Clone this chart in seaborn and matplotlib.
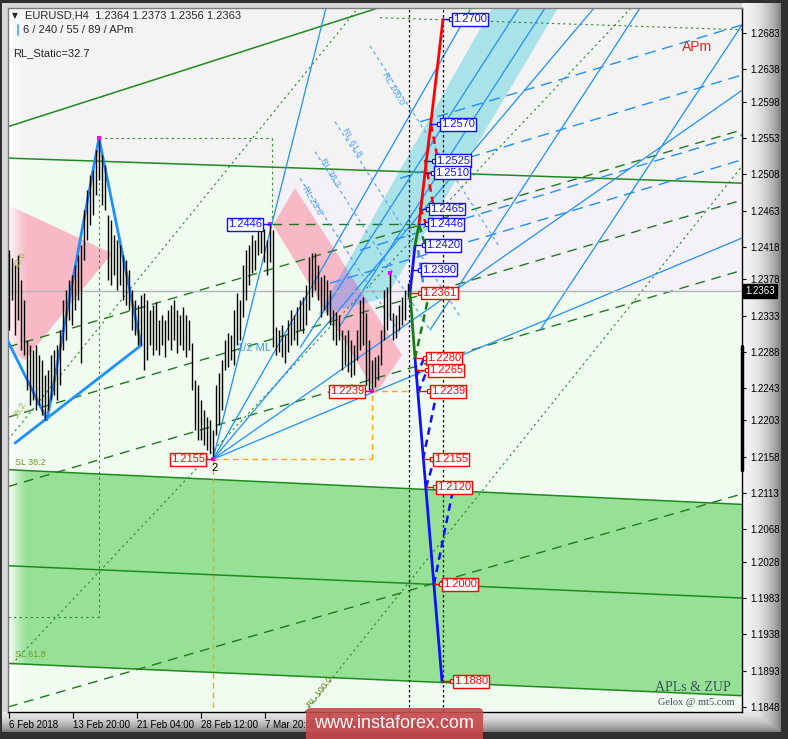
import numpy as np
import matplotlib
matplotlib.use("Agg")
import matplotlib.pyplot as plt
import seaborn as sns
from matplotlib.patches import Polygon, FancyBboxPatch

sns.set_style("white")
plt.rcParams['font.family'] = ['Liberation Sans', 'DejaVu Sans']

# ---------------- data ----------------
bar_high = [1.2414, 1.2404, 1.2396, 1.2408, 1.2377, 1.2352, 1.2303, 1.2296, 1.2290, 1.2296,
            1.2284, 1.2278, 1.2259, 1.2266, 1.2284, 1.2290, 1.2296, 1.2315, 1.2352, 1.2365,
            1.2377, 1.2383, 1.2396, 1.2408, 1.2420, 1.2464, 1.2489, 1.2507, 1.2513, 1.2538,
            1.2553, 1.2532, 1.2519, 1.2458, 1.2451, 1.2433, 1.2427, 1.2420, 1.2408, 1.2402,
            1.2389, 1.2365, 1.2352, 1.2346, 1.2358, 1.2361, 1.2352, 1.2340, 1.2346, 1.2350,
            1.2327, 1.2334, 1.2327, 1.2340, 1.2346, 1.2352, 1.2340, 1.2334, 1.2344, 1.2334,
            1.2327, 1.2299, 1.2253, 1.2247, 1.2228, 1.2216, 1.2207, 1.2204, 1.2191, 1.2247,
            1.2262, 1.2278, 1.2303, 1.2311, 1.2309, 1.2340, 1.2361, 1.2352, 1.2396, 1.2414,
            1.2420, 1.2433, 1.2427, 1.2438, 1.2444, 1.2440, 1.2427, 1.2446, 1.2439, 1.2319,
            1.2315, 1.2321, 1.2309, 1.2327, 1.2340, 1.2334, 1.2344, 1.2352, 1.2356, 1.2371,
            1.2406, 1.2410, 1.2410, 1.2396, 1.2381, 1.2383, 1.2377, 1.2365, 1.2340, 1.2337,
            1.2334, 1.2315, 1.2309, 1.2315, 1.2303, 1.2296, 1.2315, 1.2352, 1.2356, 1.2336,
            1.2303, 1.2278, 1.2282, 1.2284, 1.2315, 1.2365, 1.2368, 1.2386, 1.2336, 1.2334,
            1.2346, 1.2356, 1.2365, 1.2373]
bar_low = [1.2315, 1.2352, 1.2309, 1.2327, 1.2290, 1.2284, 1.2241, 1.2222, 1.2228, 1.2216,
           1.2222, 1.2210, 1.2204, 1.2216, 1.2228, 1.2235, 1.2228, 1.2247, 1.2290, 1.2303,
           1.2327, 1.2321, 1.2340, 1.2352, 1.2274, 1.2402, 1.2427, 1.2445, 1.2458, 1.2482,
           1.2501, 1.2470, 1.2464, 1.2377, 1.2371, 1.2383, 1.2365, 1.2371, 1.2352, 1.2346,
           1.2340, 1.2315, 1.2309, 1.2296, 1.2296, 1.2266, 1.2278, 1.2296, 1.2284, 1.2290,
           1.2284, 1.2296, 1.2282, 1.2303, 1.2290, 1.2303, 1.2287, 1.2296, 1.2290, 1.2282,
           1.2290, 1.2241, 1.2191, 1.2179, 1.2179, 1.2173, 1.2166, 1.2163, 1.2155, 1.2185,
           1.2197, 1.2216, 1.2266, 1.2269, 1.2278, 1.2272, 1.2296, 1.2303, 1.2331, 1.2352,
           1.2371, 1.2386, 1.2389, 1.2408, 1.2410, 1.2399, 1.2383, 1.2399, 1.2294, 1.2284,
           1.2288, 1.2282, 1.2274, 1.2288, 1.2296, 1.2303, 1.2296, 1.2315, 1.2311, 1.2321,
           1.2340, 1.2356, 1.2365, 1.2352, 1.2331, 1.2340, 1.2334, 1.2321, 1.2303, 1.2296,
           1.2303, 1.2266, 1.2272, 1.2263, 1.2257, 1.2259, 1.2278, 1.2290, 1.2296, 1.2247,
           1.2241, 1.2239, 1.2244, 1.2253, 1.2272, 1.2303, 1.2315, 1.2327, 1.2303, 1.2305,
           1.2315, 1.2321, 1.2327, 1.2356]
last_ohlc = [1.2364, 1.2373, 1.2356, 1.2363]

price_ticks = [1.2683, 1.2638, 1.2598, 1.2553, 1.2508, 1.2463, 1.2418, 1.2378, 1.2333, 1.2288,
               1.2243, 1.2203, 1.2158, 1.2113, 1.2068, 1.2028, 1.1983, 1.1938, 1.1893, 1.1848]
date_labels = ["6 Feb 2018", "13 Feb 20:00", "21 Feb 04:00", "28 Feb 12:00",
               "7 Mar 20:00", "15 Mar 04:00", "22 Mar 12:00"]

# swing points (bar index) marked on chart
swing_idx_high = [30, 87, 127]
swing_idx_low = [68, 121]

# forecast targets
up_targets = [1.2700, 1.2570, 1.2525, 1.2510, 1.2465, 1.2446, 1.2420, 1.2390]
down_targets = [1.2361, 1.2280, 1.2265, 1.2239, 1.2155, 1.2120, 1.2000, 1.1880]

# forecast zigzag paths (time position, price)
fc_up_blue = ([410, 415], [1.2361, 1.2420])
fc_up_green = ([415, 419], [1.2420, 1.2446])
fc_up_red = ([419, 443], [1.2446, 1.2700])
fc_dn_green = ([410, 415], [1.2361, 1.2280])
fc_dn_blue = ([415, 442], [1.2280, 1.1880])

# ZUP pattern
zup_x = [8, 47, 99, 141]
zup_p = [1.2301, 1.2204, 1.2553, 1.2296]

# ---------------- layout ----------------
W, H = 788, 739
L, R, T, B = 8, 742, 8, 712
ymin, ymax = 1.18418, 1.27140

fig = plt.figure(figsize=(W / 100, H / 100), dpi=100)
fig.patch.set_facecolor('#2e2e2e')

# beveled frame background
yy, xx = np.mgrid[0:H, 0:W]
val = np.full((H, W), 0.19)
inner = (xx >= 2) & (xx < 781) & (yy >= 3) & (yy < 732)
val[inner] = 0.84
t = np.clip((xx - R) / (781 - R), 0, 1)
s = np.clip((yy - B) / (732 - B), 0, 1)
vr = 0.95 - 0.45 * t ** 2.2
vb = 0.90 - 0.42 * s ** 1.6
rs = inner & (xx >= R)
bs = inner & (yy >= B)
val[rs] = vr[rs]
val[bs] = vb[bs]
both = rs & bs
val[both] = np.minimum(vr, vb)[both]
img = np.dstack([val, val, val])
bg = fig.add_axes([0, 0, 1, 1], zorder=0)
bg.imshow(img, extent=(0, W, H, 0), aspect='auto', interpolation='nearest')
bg.set_axis_off()

ax = fig.add_axes([L / W, (H - B) / H, (R - L) / W, (B - T) / H], zorder=1)
ax.set_facecolor('#effcef')

# ---------------- background fills ----------------
def poly(pts, fc, z=1, **kw):
    p = Polygon(pts, closed=True, fc=fc, ec='none', zorder=z, **kw)
    ax.add_patch(p)
    return p

poly([(8, 1.2528), (742, 1.2497), (742, ymax), (8, ymax)], '#f3f3f3')
poly([(273, 1.2517), (742, 1.2497), (742, 1.2363), (410, 1.2363), (410, 1.2278),
      (385, 1.2237), (273, 1.2445)], '#f5f1f9')
poly([(8, 1.2142), (742, 1.2099), (742, 1.1862), (8, 1.1902)], '#96e196')
poly([(8, 1.2470), (112, 1.2410), (25, 1.2278), (8, 1.2288)], '#f8b8c6')
pink_band = poly([(273, 1.2445), (295, 1.2491), (402, 1.2284), (376, 1.2237)], '#f8b8c6')
cyan_pts = [(318, 1.2334), (492, ymax), (558, ymax), (386, 1.2355)]
poly(cyan_pts, '#a9e2e8')
purple = poly(cyan_pts, '#b9a5dc', z=1.1)
purple.set_clip_path(pink_band)

# white fade on the left
grad = np.ones((2, 60, 4))
grad[..., 3] = np.linspace(1, 0, 60) ** 1.3
ax.imshow(grad, extent=(8, 28, ymin, ymax), aspect='auto', zorder=1.5, interpolation='bilinear')

# ---------------- trend lines ----------------
STY = {
    'g': dict(color='#1f8a1f', lw=1.1, ls='-'),
    'gd': dict(color='#1f7a1f', lw=1.0, ls=(0, (7, 5))),
    'gdot': dict(color='#2a8a2a', lw=0.8, ls=(0, (2, 3))),
    'b': dict(color='#1e90ff', lw=0.9, ls='-'),
    'bd': dict(color='#1e90ff', lw=1.0, ls=(0, (8, 5))),
    'bdot': dict(color='#4aa0ff', lw=0.8, ls=(0, (3, 3))),
    'o': dict(color='#ffa500', lw=1.0, ls=(0, (4, 3))),
    'k': dict(color='black', lw=0.9, ls=(0, (2, 2))),
    'gray': dict(color='#b4b4b4', lw=1.0, ls='-'),
}
trend_lines = [
    (8, 1.2567, 378, ymax, 'g'),
    (8, 1.2528, 742, 1.2497, 'g'),
    (8, 1.2142, 742, 1.2099, 'g'),
    (8, 1.2023, 742, 1.1983, 'g'),
    (8, 1.1902, 742, 1.1862, 'g'),
    (8, 1.2294, 742, 1.2563, 'gd'),
    (8, 1.2207, 742, 1.2476, 'gd'),
    (8, 1.2121, 742, 1.2389, 'gd'),
    (8, 1.1848, 742, 1.2112, 'gd'),
    (8, 1.1896, 631, ymax, 'gdot'),
    (305, ymin, 742, 1.2518, 'gdot'),
    (8, 1.2179, 358, ymax, 'gdot'),
    (380, 1.2702, 742, 1.2687, 'gdot'),
    (99, 1.2553, 272, 1.2553, 'gdot'),
    (99, 1.2553, 99, 1.1959, 'gdot'),
    (8, 1.1959, 99, 1.1959, 'gdot'),
    (272, 1.2553, 272, 1.2445, 'gdot'),
    (272, 1.2446, 420, 1.2446, 'gd'),
    (213, 1.2155, 326, ymax, 'b'),
    (213, 1.2155, 471, ymax, 'b'),
    (213, 1.2155, 594, ymax, 'b'),
    (213, 1.2155, 742, 1.2612, 'b'),
    (213, 1.2155, 742, 1.2429, 'b'),
    (300, 1.2293, 519, ymax, 'b'),
    (340, 1.2320, 545, ymax, 'b'),
    (430, 1.2315, 640, ymax, 'b'),
    (540, 1.2315, 742, 1.2693, 'b'),
    (420, 1.2573, 742, 1.2693, 'bd'),
    (400, 1.2503, 742, 1.2631, 'bd'),
    (360, 1.2414, 742, 1.2557, 'bd'),
    (330, 1.2373, 742, 1.2526, 'bd'),
    (370, 1.2667, 500, 1.2417, 'bdot'),
    (335, 1.2573, 460, 1.2332, 'bdot'),
    (315, 1.2536, 430, 1.2315, 'bdot'),
    (300, 1.2503, 400, 1.2311, 'bdot'),
    (213, 1.2155, 372, 1.2155, 'o'),
    (372, 1.2155, 372, 1.2239, 'o'),
    (372, 1.2239, 410, 1.2239, 'o'),
    (213, 1.2155, 213, ymin, 'o'),
    (409, ymin, 409, ymax, 'k'),
    (443, ymin, 443, ymax, 'k'),
    (8, 1.2363, 742, 1.2363, 'gray'),
]
for x0, p0, x1, p1, st in trend_lines:
    ax.plot([x0, x1], [p0, p1], zorder=2, solid_capstyle='butt', **STY[st])

# ZUP pattern (thick)
sns.lineplot(x=zup_x, y=zup_p, ax=ax, color='#1e90ff', linewidth=2.0,
             estimator=None, sort=False, legend=False, zorder=3)
ax.plot([15, 141], [1.2175, 1.2296], color='#1e90ff', lw=2.0, zorder=3)

# ---------------- price bars ----------------
n = len(bar_high)
bar_x = 9 + 3 * np.arange(n)
ax.vlines(bar_x, bar_low, bar_high, color='black', lw=1.0, zorder=4)

# swing markers
sx = [bar_x[i] for i in swing_idx_high] + [bar_x[i] for i in swing_idx_low]
sp = [bar_high[i] for i in swing_idx_high] + [bar_low[i] for i in swing_idx_low]
sns.scatterplot(x=sx, y=sp, ax=ax, marker='s', color='#ff00ff', s=9,
                edgecolor='none', legend=False, zorder=6)

# ---------------- forecast ----------------
for (fx, fp), col in [(fc_up_blue, '#1010ff'), (fc_up_green, '#1a7a1a'), (fc_up_red, '#ff0000'),
                      (fc_dn_green, '#1a7a1a'), (fc_dn_blue, '#1010ff')]:
    sns.lineplot(x=fx, y=fp, ax=ax, color=col, linewidth=2.0, estimator=None,
                 sort=False, legend=False, zorder=5)

dashed_fc = [
    (431, 1.2570, 438, 1.2525, '#ff0000'),
    (425, 1.2526, 433, 1.2472, '#ff0000'),
    (420, 1.2467, 427, 1.2443, '#ff0000'),
    (419, 1.2446, 426, 1.2417, '#1a7a1a'),
    (415, 1.2280, 430, 1.2365, '#1a7a1a'),
    (418, 1.2414, 425, 1.2358, '#5080ff'),
    (416, 1.2257, 424, 1.2280, '#1010ff'),
    (418, 1.2237, 427, 1.2265, '#1010ff'),
    (423, 1.2155, 437, 1.2239, '#1010ff'),
    (426, 1.2120, 433, 1.2150, '#1010ff'),
    (434, 1.2000, 452, 1.2111, '#1010ff'),
]
for x0, p0, x1, p1, c in dashed_fc:
    ax.plot([x0, x1], [p0, p1], color=c, lw=1.8, ls=(0, (3, 2)), zorder=5)

up_node_x = [443, 430, 426, 425, 421, 419, 415, 412]
up_box_x = [452, 440, 435, 434, 429, 428, 425, 421]
dn_node_x = [410, 415, 416, 418, 423, 426, 434, 442]
dn_box_x = [421, 426, 428, 430, 433, 436, 442, 453]


def label_box(x, p, txt, col, ha='left'):
    ax.text(x, p, txt, fontsize=8, color=col, ha=ha, va='center', zorder=8,
            bbox=dict(boxstyle='square,pad=0.12', fc='white', ec=col, lw=1.0))


for p, nx, bx in zip(up_targets, up_node_x, up_box_x):
    ax.plot([nx, bx - 1], [p, p], color='#1010ff', lw=1.0, zorder=6)
    ax.plot([bx - 1.5], [p], marker='s', ms=3, mfc='white', mec='#1010ff', mew=0.8, zorder=7)
    label_box(bx + 1, p, f"{p:.4f}", '#1010ff')
for p, nx, bx in zip(down_targets, dn_node_x, dn_box_x):
    ax.plot([nx, bx - 1], [p, p], color='#ff0000', lw=1.0, zorder=6)
    ax.plot([bx - 1.5], [p], marker='s', ms=3, mfc='white', mec='#ff0000', mew=0.8, zorder=7)
    label_box(bx + 1, p, f"{p:.4f}", '#ff0000')

# swing labels on the history
for i, col in [(87, '#1010ff')]:
    ax.plot([bar_x[i] - 8, bar_x[i]], [bar_high[i]] * 2, color=col, lw=1.0, zorder=6)
    label_box(bar_x[i] - 8, bar_high[i], f"{bar_high[i]:.4f}", col, ha='right')
for i in swing_idx_low:
    ax.plot([bar_x[i] - 8, bar_x[i]], [bar_low[i]] * 2, color='#ff0000', lw=1.0, zorder=6)
    label_box(bar_x[i] - 8, bar_low[i], f"{bar_low[i]:.4f}", '#ff0000', ha='right')
ax.text(bar_x[68] + 2, 1.2144, "2", fontsize=8, color='black', ha='center', va='center', zorder=8)

# ---------------- in-chart texts ----------------
ax.text(15, 1.2151, "SL 38.2", fontsize=6.5, color='#6f9a2a', va='center', zorder=6)
ax.text(15, 1.1913, "SL 61.8", fontsize=6.5, color='#6f9a2a', va='center', zorder=6)
ax.text(20, 1.2402, "23.6", fontsize=6.5, color='#8ab84a', rotation=60, ha='center', va='center', zorder=6)
ax.text(20, 1.2216, "38.2", fontsize=6.5, color='#8ab84a', rotation=60, ha='center', va='center', zorder=6)
ax.text(320, 1.1866, "RL 100.0", fontsize=6.5, color='#6a8a20', rotation=52, ha='center', va='center', zorder=6)
for txt, x, p in [("RL 100.0", 393, 1.2615), ("RL 61.8", 352, 1.2548),
                  ("RL 38.2", 330, 1.2511), ("RL 23.6", 312, 1.2476)]:
    ax.text(x, p, txt, fontsize=6.5, color='#4aa0ff', rotation=-60, ha='center', va='center', zorder=6)
ax.text(254, 1.2293, "1/2 ML", fontsize=8, color='#3399ff', ha='center', va='center', zorder=6)
ax.text(697, 1.2666, "APm", fontsize=10, color='#e82020', ha='center', va='center', zorder=6)
ax.text(731, 1.1872, "APLs & ZUP", fontsize=10, color='#3e4e60', ha='right', va='center',
        family='Liberation Serif', zorder=6)
ax.text(735, 1.1853, "Gelox @ mt5.com", fontsize=7.5, color='#3e4e60', ha='right', va='center',
        family='Liberation Serif', zorder=6)

# ---------------- axes ----------------
ax.set_xlim(L, R)
ax.set_ylim(ymin, ymax)
ax.yaxis.tick_right()
ax.set_yticks(price_ticks)
ax.set_yticklabels([f"{v:.4f}" for v in price_ticks], fontsize=7)
date_x = [9, 73, 137, 201, 265, 329, 393]
ax.set_xticks(date_x)
ax.set_xticklabels(date_labels, fontsize=7, ha='left')
ax.tick_params(axis='y', right=True, left=False, length=3, width=0.8, pad=3, colors='black')
ax.tick_params(axis='x', bottom=True, length=4, width=0.8, pad=2, colors='black')
for side in ['right', 'bottom']:
    ax.spines[side].set_color('black')
    ax.spines[side].set_linewidth(1.0)
for side in ['left', 'top']:
    ax.spines[side].set_color('#7a7a7a')
    ax.spines[side].set_linewidth(1.0)
ax.set_xlabel('')
ax.set_ylabel('')

# black bar on the price scale and current price tag
ax.plot([R - 0.5, R - 0.5], [1.2295, 1.2142], color='black', lw=2.5, zorder=9, clip_on=False)
ax.text(R + 3, last_ohlc[3], f"{last_ohlc[3]:.4f}", fontsize=7, color='white', ha='left', va='center',
        clip_on=False, zorder=9, bbox=dict(boxstyle='square,pad=0.2', fc='black', ec='black'))

# header
fig.text(12 / W, 1 - 16 / H, "\u25bc", fontsize=5.5, family='DejaVu Sans', va='center', zorder=5)
fig.text(25 / W, 1 - 16 / H,
         f"EURUSD,H4  {last_ohlc[0]:.4f} {last_ohlc[1]:.4f} {last_ohlc[2]:.4f} {last_ohlc[3]:.4f}",
         fontsize=8, va='center', zorder=5)
fig.text(23 / W, 1 - 30 / H, "6 / 240 / 55 / 89 / APm", fontsize=8, va='center', zorder=5)
fig.add_artist(plt.Line2D([18 / W, 18 / W], [1 - 25 / H, 1 - 35 / H], color='#6ab0ff', lw=1.5,
                          transform=fig.transFigure, zorder=5))
fig.text(13 / W, 1 - 53 / H, "RL_Static=32.7", fontsize=8, va='center', zorder=5)

# watermark
wm = FancyBboxPatch((306 / W, -10 / H), 177 / W, 41 / H,
                    boxstyle='round,pad=0,rounding_size=0.006', transform=fig.transFigure,
                    fc='#c8494b', ec='none', alpha=0.9, zorder=10)
fig.patches.append(wm)
fig.text(394 / W, 1 - 723 / H, "www.instaforex.com", color='white', fontsize=13,
         ha='center', va='center', zorder=11)

fig.savefig("out.png", dpi=100, facecolor=fig.get_facecolor())
